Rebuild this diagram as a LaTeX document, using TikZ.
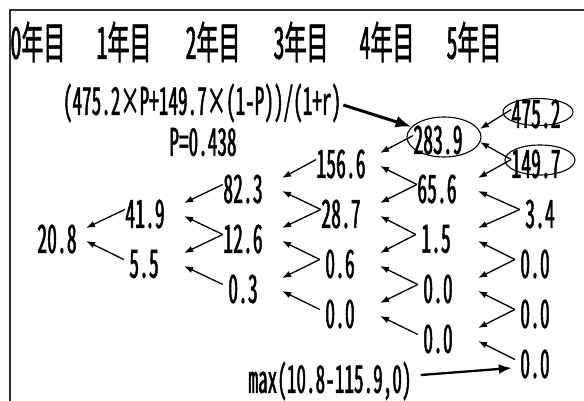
\documentclass[tikz,border=0pt]{standalone}
\usepackage{fontspec}
\setmainfont{Noto Sans CJK JP}[FakeStretch=0.505,FakeBold=1.2,RawFeature=+hwid]
\newfontfamily\hdfont{Noto Sans CJK JP}[FakeStretch=0.5,FakeBold=1.2,RawFeature=+hwid]
\usetikzlibrary{arrows.meta,shapes.geometric}
\newcommand{\uparr}[3]{\draw[arr] ([yshift=4.5pt]#1.west) -- ([xshift=#3,yshift=11pt]#2.center);}
\newcommand{\loarr}[3]{\draw[arr] ([yshift=4.5pt]#1.west) -- ([xshift=#3,yshift=-2pt]#2.center);}
\begin{document}
\begin{tikzpicture}[x=1pt,y=-1pt,
  num/.style={inner sep=0pt, minimum width=40pt, font=\fontsize{39}{41}\selectfont},
  hd/.style={inner sep=0pt, font=\hdfont\fontsize{44}{46}\selectfont},
  lbl/.style={inner sep=0pt, font=\fontsize{38}{40}\selectfont},
  arr/.style={line width=1.3pt, -{Latex[length=9pt,width=6.5pt]}},
  bigarr/.style={line width=3pt, -{Latex[length=16pt,width=12pt]}},
  maxarr/.style={line width=2.3pt, -{Latex[length=13pt,width=10pt]}},
  oval/.style={draw, ellipse, line width=1.1pt, inner sep=0pt},
  frame/.style={line width=1.8pt, draw=black!80}]
\useasboundingbox (0,0) rectangle (584,401);
\fill[white] (0,0) rectangle (584,401);
\draw[frame] (10,402) -- (10,10) -- (585,10);
% headers
\node[hd] (h0) at (38,42) {0年目};
\node[hd] (h1) at (124,42) {1年目};
\node[hd] (h2) at (213,42) {2年目};
\node[hd] (h3) at (301,42) {3年目};
\node[hd] (h4) at (387,42) {4年目};
\node[hd] (h5) at (474,42) {5年目};
% labels
\node[lbl] (formula) at (202,103) {(475.2×P+149.7×(1-P))/(1+r)};
\node[lbl] (prob) at (203,142) {P=0.438};
\node[lbl] (mx) at (330,381) {max(10.8-115.9,0)};
% ellipses
\node[oval, minimum width=70pt, minimum height=27pt] (e475) at (538,112) {};
\node[oval, minimum width=74pt, minimum height=40pt] (e283) at (444,137) {};
\node[oval, minimum width=70pt, minimum height=30pt] (e149) at (540,160) {};
% column 0
\node[num] (a0) at (57,239) {20.8};
% column 1
\node[num] (b0) at (145,214) {41.9};
\node[num] (b1) at (144,264) {5.5};
% column 2
\node[num] (c0) at (243,189) {82.3};
\node[num] (c1) at (243,239) {12.6};
\node[num] (c2) at (243,289) {0.3};
% column 3
\node[num] (d0) at (341,164) {156.6};
\node[num] (d1) at (341,214) {28.7};
\node[num] (d2) at (340,264) {0.6};
\node[num] (d3) at (340,314) {0.0};
% column 4
\node[num] (f0) at (438,140) {283.9};
\node[num] (f1) at (437,189) {65.6};
\node[num] (f2) at (436,239) {1.5};
\node[num] (f3) at (438,289) {0.0};
\node[num] (f4) at (438,339) {0.0};
% column 5
\node[num] (g0) at (536,114) {475.2};
\node[num] (g1) at (536,164) {149.7};
\node[num] (g2) at (540,214) {3.4};
\node[num] (g3) at (535,264) {0.0};
\node[num] (g4) at (535,314) {0.0};
\node[num] (g5) at (535,364) {0.0};
% arrows
\uparr{b0}{a0}{29pt}\loarr{b1}{a0}{29pt}
\uparr{c0}{b0}{39pt}\loarr{c1}{b0}{39pt}
\uparr{c1}{b1}{40pt}\loarr{c2}{b1}{40pt}
\uparr{d0}{c0}{39pt}\loarr{d1}{c0}{39pt}
\uparr{d1}{c1}{39pt}\loarr{d2}{c1}{39pt}
\uparr{d2}{c2}{39pt}\loarr{d3}{c2}{39pt}
\uparr{f0}{d0}{39pt}\loarr{f1}{d0}{39pt}
\uparr{f1}{d1}{39pt}\loarr{f2}{d1}{39pt}
\uparr{f2}{d2}{40pt}\loarr{f3}{d2}{40pt}
\uparr{f3}{d3}{40pt}\loarr{f4}{d3}{40pt}
\uparr{g0}{f0}{42pt}\loarr{g1}{f0}{42pt}
\uparr{g1}{f1}{41pt}\loarr{g2}{f1}{41pt}
\uparr{g2}{f2}{42pt}\loarr{g3}{f2}{42pt}
\uparr{g3}{f3}{40pt}\loarr{g4}{f3}{40pt}
\uparr{g4}{f4}{40pt}\loarr{g5}{f4}{40pt}
% thick arrows
\draw[bigarr] ([xshift=2pt,yshift=-2pt]formula.east) -- (e283);
\draw[maxarr] ([xshift=9pt,yshift=6pt]mx.east) -- ([xshift=-3pt,yshift=-4pt]g5.west);
\end{tikzpicture}
\end{document}
